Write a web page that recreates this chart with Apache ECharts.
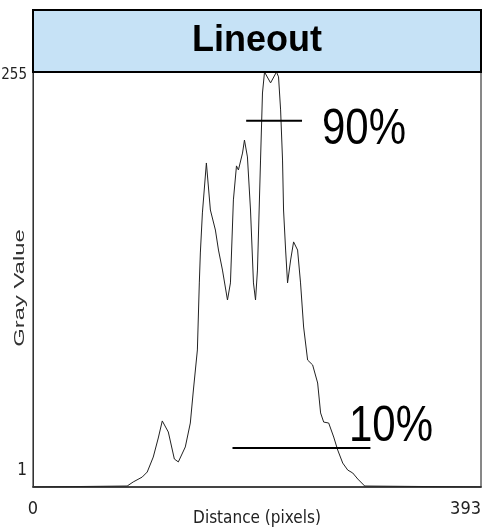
<!DOCTYPE html>
<html>
<head>
<meta charset="utf-8">
<script src="https://cdn.jsdelivr.net/npm/echarts@6/dist/echarts.min.js"></script>
<style>
html,body{margin:0;padding:0;background:#fff;}
#chart{width:485px;height:530px;}
</style>
</head>
<body>
<div id="chart"></div>
<script>
// Lineout profile: distance (pixels) vs gray value
const distance = [0, 82.6, 87.9, 95.8, 100.2, 105.5, 109.9, 113.4, 118.7, 124.0, 127.5, 133.6, 138.0, 140.7, 144.2, 145.9, 146.8, 148.6, 152.1, 155.6, 160.0, 162.7, 166.2, 170.6, 173.2, 175.8, 178.5, 180.2, 183.8, 185.5, 188.1, 190.8, 193.4, 195.2, 196.9, 199.6, 201.3, 203.1, 208.4, 213.6, 215.4, 217.2, 218.9, 219.8, 221.6, 223.3, 226.0, 228.6, 232.1, 234.7, 237.4, 240.9, 245.3, 249.7, 252.3, 255.0, 259.4, 263.8, 267.3, 271.7, 276.1, 280.5, 284.9, 291.0, 393];
const grayValue = [0, 0.6, 3.1, 6.1, 9.2, 18.4, 30.1, 40.6, 33.8, 17.2, 15.4, 24.6, 39.3, 59.6, 84.2, 125.4, 143.8, 168.4, 199.1, 170.2, 157.9, 145.6, 133.3, 114.9, 125.4, 176.4, 197.3, 194.8, 205.2, 213.2, 202.8, 170.2, 125.4, 114.9, 133.3, 200.9, 242.1, 255, 248.3, 255, 252, 231.7, 200.9, 170.2, 145.6, 125.4, 139.5, 150.6, 145.6, 125.4, 98.3, 78.0, 75.0, 63.9, 45.5, 39.9, 39.3, 30.7, 22.7, 14.7, 10.4, 8.6, 4.9, 0.6, 0];

const level90X = [187, 236];
const level90Y = 225;
const level10X = [175, 296];
const level10Y = 24;

const xTicks = [0, 393];
const yTicks = [1, 255];
const xMin = 0, xMax = 393, yMin = 0, yMax = 255;

const chart = echarts.init(document.getElementById('chart'), null, {renderer: 'canvas'});
const narrow = "'Liberation Sans Narrow', 'DejaVu Sans Condensed', 'Liberation Sans', sans-serif";

const profile = distance.map((d, i) => [d, grayValue[i]]);
const line90 = level90X.map(x => [x, level90Y]);
const line10 = level10X.map(x => [x, level10Y]);

chart.setOption({
  animation: false,
  backgroundColor: '#fff',
  grid: {left: 33, right: 4, top: 72, bottom: 43, outerBoundsMode: 'none', containLabel: false, show: true, borderColor: '#111', borderWidth: 1, backgroundColor: 'transparent'},
  xAxis: {
    type: 'value', min: xMin, max: xMax,
    name: 'Distance (pixels)', nameLocation: 'middle', nameGap: 23, nameMoveOverlap: false,
    nameTextStyle: {fontFamily: narrow, fontSize: 17, color: '#222'},
    axisLine: {show: true, lineStyle: {color: '#444', width: 2}},
    axisTick: {show: false},
    splitLine: {show: false},
    axisLabel: {
      customValues: xTicks, fontFamily: narrow, fontSize: 18, color: '#222', margin: 13, alignMaxLabel: 'right',
      formatter: v => '{t|' + v + '}',
      rich: {t: {fontFamily: narrow, fontSize: 18, color: '#222'}}
    }
  },
  yAxis: {
    type: 'value', min: yMin, max: yMax,
    axisLine: {show: true, lineStyle: {color: '#333', width: 1}},
    axisTick: {show: false},
    splitLine: {show: false},
    axisLabel: {
      customValues: yTicks, fontFamily: narrow, fontSize: 17, color: '#222', margin: 6,
      formatter: v => (v === yTicks[0] ? '{lo|' + v + '}' : '{hi|' + v + '}'),
      rich: {
        lo: {fontFamily: narrow, fontSize: 17, color: '#222', padding: [0, 0, 30, 0]},
        hi: {fontFamily: narrow, fontSize: 15, color: '#222', padding: [7, 0, 0, 0]}
      }
    }
  },
  series: [
    {type: 'line', data: profile, showSymbol: false, lineStyle: {color: '#222', width: 1}, z: 3},
    {type: 'line', data: line90, showSymbol: false, lineStyle: {color: '#000', width: 2}, z: 4},
    {type: 'line', data: line10, showSymbol: false, lineStyle: {color: '#000', width: 2}, z: 4}
  ],
  graphic: [
    {type: 'rect', shape: {x: 33, y: 10, width: 448, height: 62}, style: {fill: '#C6E2F6', stroke: '#000', lineWidth: 2}, z: 10},
    {type: 'text', x: 257, y: 41, z: 11, style: {text: 'Lineout', font: "bold 36px 'Liberation Sans', Arial, sans-serif", fill: '#000', textAlign: 'center', textVerticalAlign: 'middle'}},
    {type: 'text', x: 364, y: 130, scaleY: 1.2, z: 11, style: {text: '90%', font: "42px 'Liberation Sans', Arial, sans-serif", fill: '#000', textAlign: 'center', textVerticalAlign: 'middle'}},
    {type: 'text', x: 391, y: 427, scaleY: 1.2, z: 11, style: {text: '10%', font: "42px 'Liberation Sans', Arial, sans-serif", fill: '#000', textAlign: 'center', textVerticalAlign: 'middle'}},
    {type: 'text', x: 20, y: 288, rotation: Math.PI / 2, scaleX: 1.7, z: 11, style: {text: 'Gray Value', font: "14px 'Liberation Sans', Arial, sans-serif", fill: '#333', textAlign: 'center', textVerticalAlign: 'middle'}}
  ]
});
</script>
</body>
</html>
